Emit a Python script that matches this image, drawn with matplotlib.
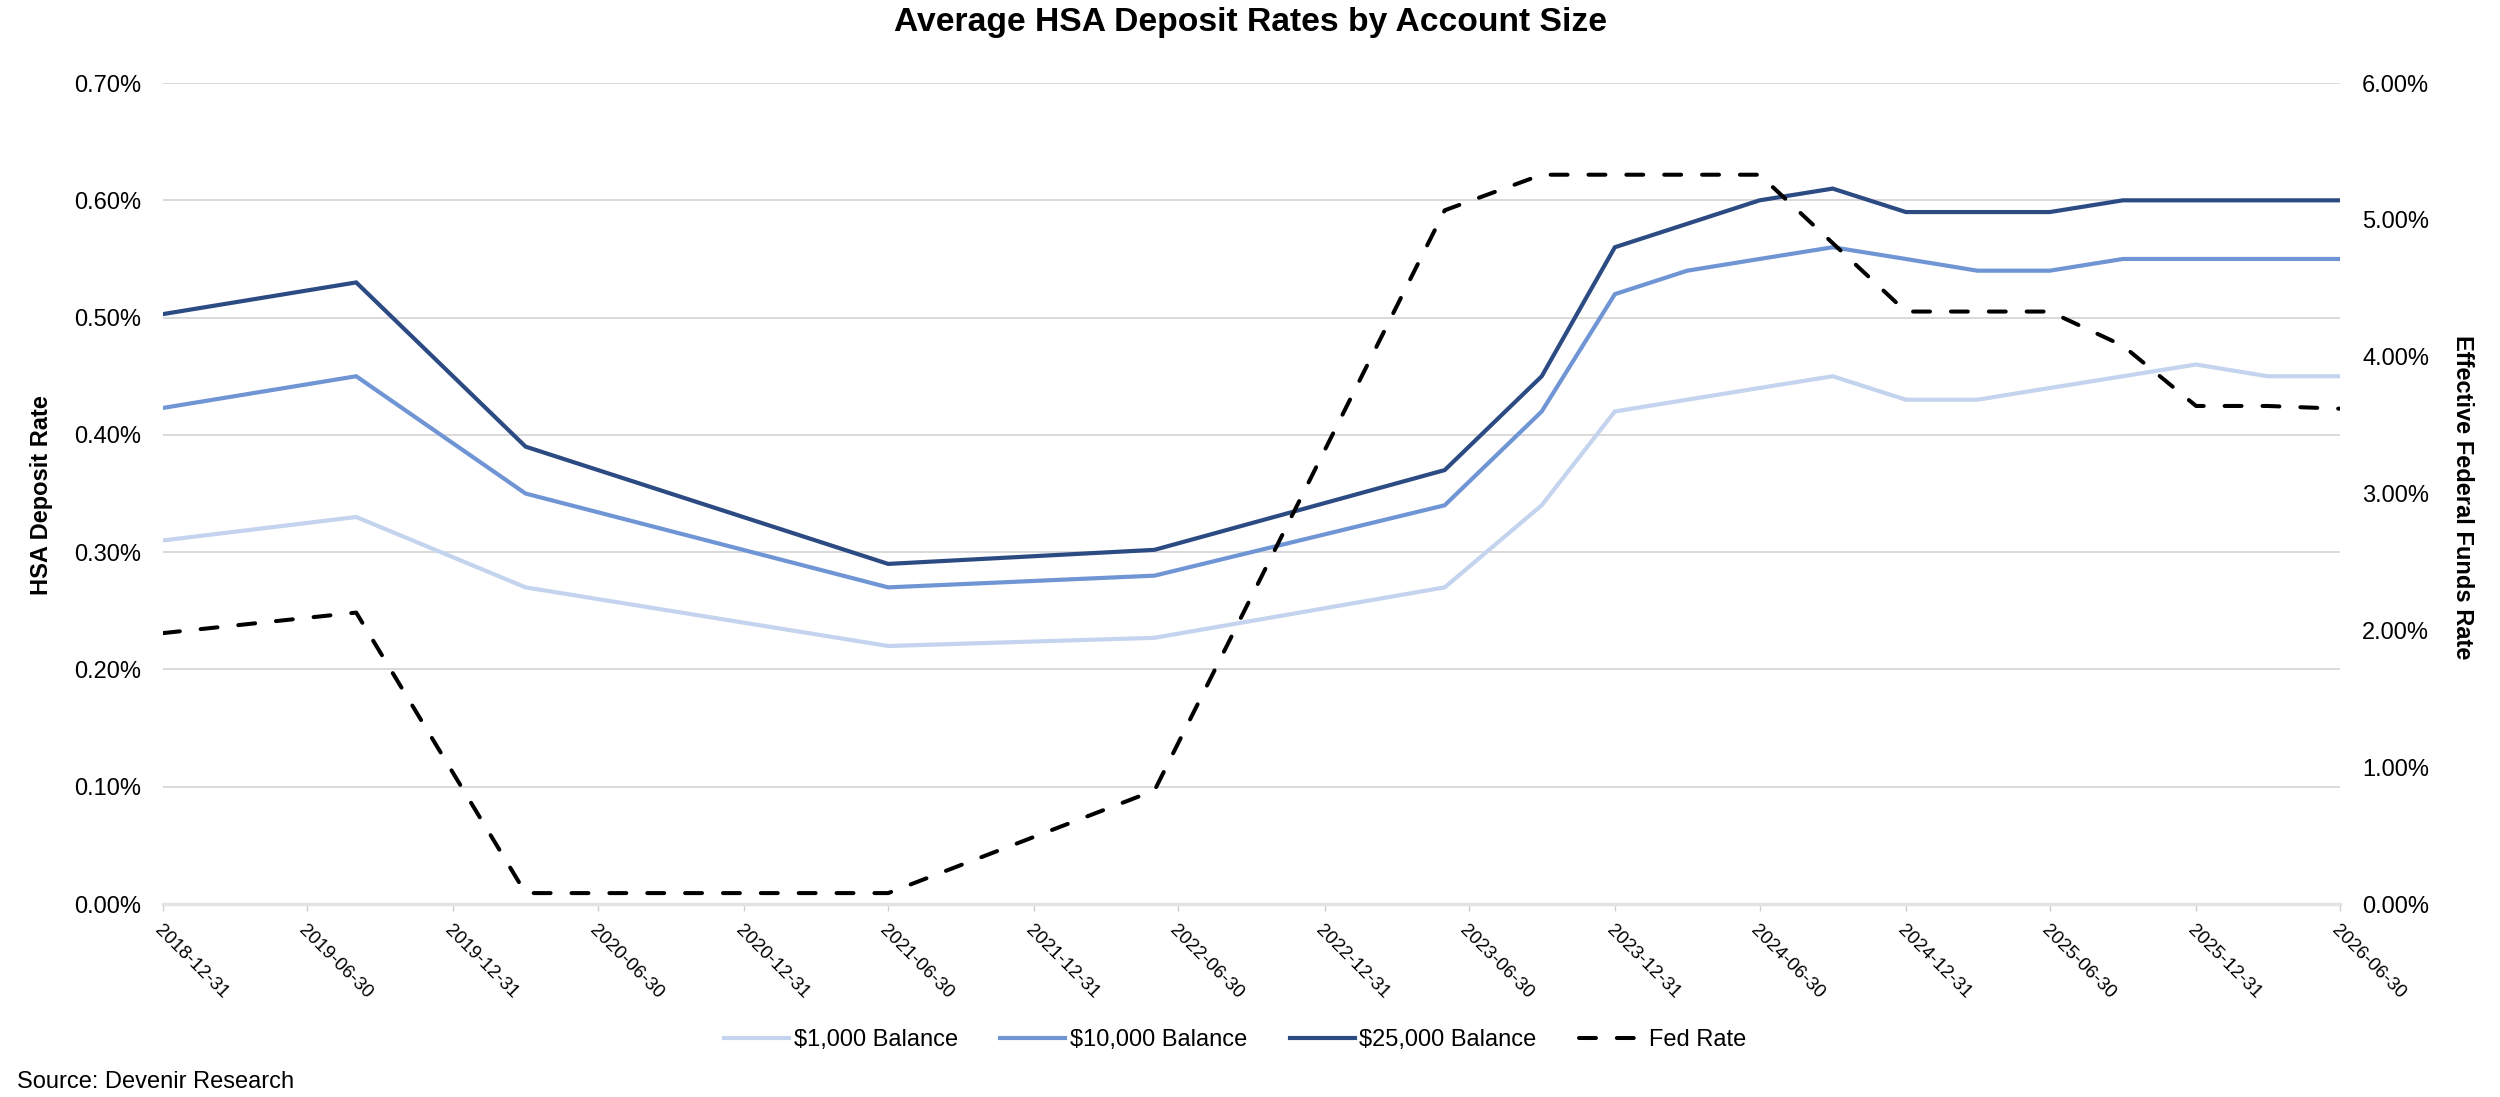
import numpy as np
import pandas as pd
import matplotlib
matplotlib.use("Agg")
import matplotlib.pyplot as plt
import matplotlib.dates as mdates
from matplotlib.ticker import FuncFormatter

plt.rcParams['font.family'] = ['Liberation Sans', 'DejaVu Sans']

# data (rates in %)
fechas = ['2018-12-31', '2019-08-31', '2020-03-31', '2021-06-30', '2022-05-31',
          '2023-05-31', '2023-09-30', '2023-12-31', '2024-03-31', '2024-06-30',
          '2024-09-30', '2024-12-31', '2025-03-31', '2025-06-30', '2025-09-30',
          '2025-12-31', '2026-03-31', '2026-06-30']
bal_1k = [0.31, 0.33, 0.27, 0.22, 0.227, 0.27, 0.34, 0.42, 0.43, 0.44,
          0.45, 0.43, 0.43, 0.44, 0.45, 0.46, 0.45, 0.45]
bal_10k = [0.423, 0.45, 0.35, 0.27, 0.28, 0.34, 0.42, 0.52, 0.54, 0.55,
           0.56, 0.55, 0.54, 0.54, 0.55, 0.55, 0.55, 0.55]
bal_25k = [0.503, 0.53, 0.39, 0.29, 0.302, 0.37, 0.45, 0.56, 0.58, 0.60,
           0.61, 0.59, 0.59, 0.59, 0.60, 0.60, 0.60, 0.60]
fed_rate = [1.98, 2.13, 0.08, 0.08, 0.83, 5.07, 5.33, 5.33, 5.33, 5.33,
            4.83, 4.33, 4.33, 4.33, 4.08, 3.64, 3.64, 3.62]

etiquetas = ['$1,000 Balance', '$10,000 Balance', '$25,000 Balance', 'Fed Rate']
colores = ['#c4d3ee', '#7095d5', '#2c4b83']
ticks_x = pd.date_range('2018-12-31', '2026-06-30', freq='6ME')

x = pd.to_datetime(fechas)

fig = plt.figure(figsize=(25, 10.97), dpi=100)
ax = fig.add_axes([0.0652, 0.1759, 0.8708, 0.7484])
ax2 = ax.twinx()

lineas = []
for serie, col, lab in zip([bal_1k, bal_10k, bal_25k], colores, etiquetas[:3]):
    l, = ax.plot(x, serie, color=col, lw=3.0, label=lab, solid_joinstyle='miter')
    lineas.append(l)

lf, = ax2.plot(x, fed_rate, color='black', lw=2.9, label=etiquetas[3],
               dashes=(4.2, 5.2), dash_capstyle='round')
lineas.append(lf)

ax.set_xlim(ticks_x[0], ticks_x[-1])
ax.set_ylim(0, 0.7)
ax2.set_ylim(0, 6)
ax.set_yticks(np.arange(0, 0.71, 0.1))
ax2.set_yticks(np.arange(0, 6.1, 1))
ax.yaxis.set_major_formatter(FuncFormatter(lambda v, p: '{:.2f}%'.format(v)))
ax2.yaxis.set_major_formatter(FuncFormatter(lambda v, p: '{:.2f}%'.format(v)))

ax.set_xticks(ticks_x)
ax.xaxis.set_major_formatter(mdates.DateFormatter('%Y-%m-%d'))
for t in ax.get_xticklabels():
    t.set_rotation(-45)
    t.set_ha('left')
    t.set_va('top')
    t.set_rotation_mode('anchor')

ax.grid(axis='y', color='#d9d9d9', lw=1.4)
ax.set_axisbelow(True)
for a in (ax, ax2):
    for s in a.spines.values():
        s.set_visible(False)
ax.spines['bottom'].set_visible(True)
ax.spines['bottom'].set_color('#e3e3e3')
ax.spines['bottom'].set_linewidth(2.5)

ax.tick_params(axis='y', length=0, pad=16, labelsize=17)
ax2.tick_params(axis='y', length=0, pad=16, labelsize=17)
ax.tick_params(axis='x', length=5, width=1, color='#cfcfcf', pad=8, labelsize=13.5)

fig.text(0.5, 1 - 23 / 1097, 'Average HSA Deposit Rates by Account Size',
         ha='center', va='center', fontsize=24.2, fontweight='bold')
fig.text(42 / 2500, 1 - 495 / 1097, 'HSA Deposit Rate', rotation=90,
         ha='center', va='center', fontsize=17, fontweight='bold')
fig.text(2462 / 2500, 1 - 497 / 1097, 'Effective Federal Funds Rate', rotation=270,
         ha='center', va='center', fontsize=17, fontweight='bold')
fig.text(17 / 2500, 1 - 1082 / 1097, 'Source: Devenir Research',
         ha='left', va='center', fontsize=17)

fig.legend(lineas, etiquetas, loc='center', bbox_to_anchor=(0.494, 1 - 1040 / 1097),
           ncol=4, frameon=False, fontsize=17, handlelength=2.75,
           handletextpad=0.2, columnspacing=1.8)

fig.savefig('out.png', dpi=100)
